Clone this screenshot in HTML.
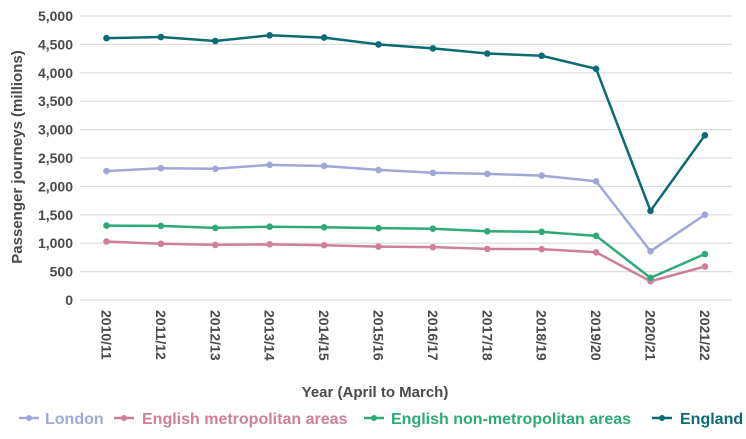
<!DOCTYPE html>
<html><head><meta charset="utf-8"><style>
html,body{margin:0;padding:0;background:#fff;}
svg{display:block;font-family:"Liberation Sans",sans-serif;}
</style></head><body>
<svg id="c" width="746" height="439" viewBox="0 0 746 439" xmlns="http://www.w3.org/2000/svg">
<g id="grid" stroke="#dcdcdc" stroke-width="1.2"></g>
<g id="yl" fill="#4a4a4a" font-size="14" font-weight="bold" text-anchor="end"></g>
<g id="xl" fill="#4a4a4a" font-size="14" font-weight="bold"></g>
<text x="0" y="0" transform="translate(22,157) rotate(-90)" text-anchor="middle" fill="#4a4a4a" font-size="15" font-weight="bold">Passenger journeys (millions)</text>
<text x="375" y="397" text-anchor="middle" fill="#4a4a4a" font-size="15" font-weight="bold">Year (April to March)</text>
<g id="series"></g>
<g font-size="16" font-weight="bold">
<line x1="19" y1="418" x2="39" y2="418" stroke="#a0a8d8" stroke-width="2.5"/><circle cx="29" cy="418" r="3" fill="#a0a8d8"/>
<text x="45" y="424" fill="#a0a8d8">London</text>
<line x1="114" y1="418" x2="134" y2="418" stroke="#cf7f9c" stroke-width="2.5"/><circle cx="124" cy="418" r="3" fill="#cf7f9c"/>
<text x="142" y="424" fill="#cf7f9c">English metropolitan areas</text>
<line x1="364" y1="418" x2="384" y2="418" stroke="#2eaa78" stroke-width="2.5"/><circle cx="374" cy="418" r="3" fill="#2eaa78"/>
<text x="391" y="424" fill="#2eaa78">English non-metropolitan areas</text>
<line x1="652" y1="418" x2="672" y2="418" stroke="#0b6b72" stroke-width="2.5"/><circle cx="662" cy="418" r="3" fill="#0b6b72"/>
<text x="680" y="424" fill="#0b6b72">England</text>
</g>
</svg>
<script>
var ns="http://www.w3.org/2000/svg";
function el(t,a,p,txt){var e=document.createElementNS(ns,t);for(var k in a)e.setAttribute(k,a[k]);if(txt)e.textContent=txt;document.getElementById(p).appendChild(e);return e;}
function Y(v){return 300-v*0.0568;}
function X(i){return 106.5+54.4*i;}
for(var v=0;v<=5000;v+=500){
 el("line",{x1:80,x2:732,y1:Y(v),y2:Y(v)},"grid");
 el("text",{x:73,y:Y(v)+5},"yl",v.toLocaleString("en-US"));
}
var yrs=["2010/11","2011/12","2012/13","2013/14","2014/15","2015/16","2016/17","2017/18","2018/19","2019/20","2020/21","2021/22"];
yrs.forEach(function(s,i){el("text",{x:0,y:0,transform:"translate("+(X(i)-5)+",310) rotate(90)"},"xl",s);});
var S=[
["#a0a8d8",[2270,2320,2310,2380,2360,2290,2240,2220,2190,2090,860,1500]],
["#cf7f9c",[1030,990,970,980,965,940,930,900,895,840,330,590]],
["#2eaa78",[1310,1305,1270,1290,1280,1265,1255,1210,1200,1130,390,810]],
["#0b6b72",[4610,4630,4560,4660,4620,4500,4430,4340,4300,4070,1570,2900]]];
S.forEach(function(s){
 var pts=s[1].map(function(v,i){return X(i)+","+Y(v);}).join(" ");
 el("polyline",{points:pts,fill:"none",stroke:s[0],"stroke-width":2.5},"series");
 s[1].forEach(function(v,i){el("circle",{cx:X(i),cy:Y(v),r:3.3,fill:s[0]},"series");});
});
</script>
</body></html>
